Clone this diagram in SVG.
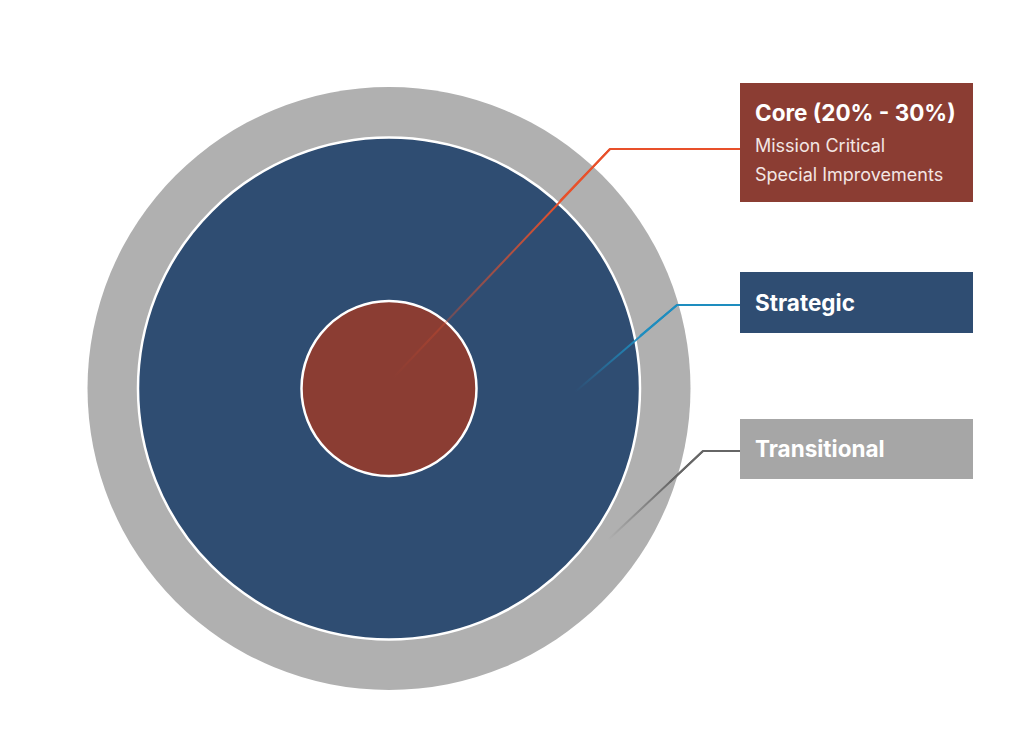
<svg xmlns="http://www.w3.org/2000/svg" width="1024" height="738" viewBox="0 0 1024 738">
<style>
.title{font-family:Inter,"Open Sans","Liberation Sans",sans-serif;font-weight:700;fill:#fff;font-size:22.5px}
.sub{font-family:Inter,"Open Sans","Liberation Sans",sans-serif;font-weight:400;fill:#f3e6e3;font-size:18px}
.ln{fill:none;stroke-width:2}
</style>
<defs>
<linearGradient id="gCore" gradientUnits="userSpaceOnUse" x1="393" y1="378" x2="560" y2="200">
<stop offset="0" stop-color="#E8502A" stop-opacity="0"/>
<stop offset="1" stop-color="#E8502A" stop-opacity="1"/>
</linearGradient>
<linearGradient id="gStr" gradientUnits="userSpaceOnUse" x1="575" y1="392" x2="640" y2="335">
<stop offset="0" stop-color="#1E8DBF" stop-opacity="0"/>
<stop offset="1" stop-color="#1E8DBF" stop-opacity="1"/>
</linearGradient>
<linearGradient id="gTr" gradientUnits="userSpaceOnUse" x1="608" y1="540" x2="670" y2="480">
<stop offset="0" stop-color="#666666" stop-opacity="0"/>
<stop offset="1" stop-color="#666666" stop-opacity="1"/>
</linearGradient>
</defs>
<rect width="1024" height="738" fill="#fff"/>
<g id="transitional-ring"><circle cx="389" cy="388.5" r="301.5" fill="#B0B0B0"/></g>
<g id="strategic-ring"><circle cx="389" cy="388.5" r="251" fill="#2F4D72" stroke="#fff" stroke-width="2.5"/></g>
<g id="core-circle"><circle cx="389" cy="388.5" r="87.5" fill="#8B3D33" stroke="#fff" stroke-width="2.5"/></g>
<g id="connectors">
<polyline class="ln" stroke="url(#gCore)" points="393,378 610,149"/>
<polyline class="ln" stroke="#E8502A" points="560,201 610,149 740,149"/>
<polyline class="ln" stroke="url(#gStr)" points="575,392 677,305"/>
<polyline class="ln" stroke="#1E8DBF" points="640,336 677,305 740,305"/>
<polyline class="ln" stroke="url(#gTr)" points="608,540 703,451"/>
<polyline class="ln" stroke="#666666" points="670,482 703,451 740,451"/>
</g>
<g id="core-label">
<rect x="740" y="83" width="233" height="119" fill="#8B3D33"/>
<text class="title" x="755" y="121">Core (20% - 30%)</text>
<text class="sub" x="755" y="152">Mission Critical</text>
<text class="sub" x="755" y="181">Special Improvements</text>
</g>
<g id="strategic-label">
<rect x="740" y="272" width="233" height="61" fill="#2F4D72"/>
<text class="title" x="755" y="311">Strategic</text>
</g>
<g id="transitional-label">
<rect x="740" y="419" width="233" height="60" fill="#A6A6A6"/>
<text class="title" x="755" y="457">Transitional</text>
</g>
</svg>
